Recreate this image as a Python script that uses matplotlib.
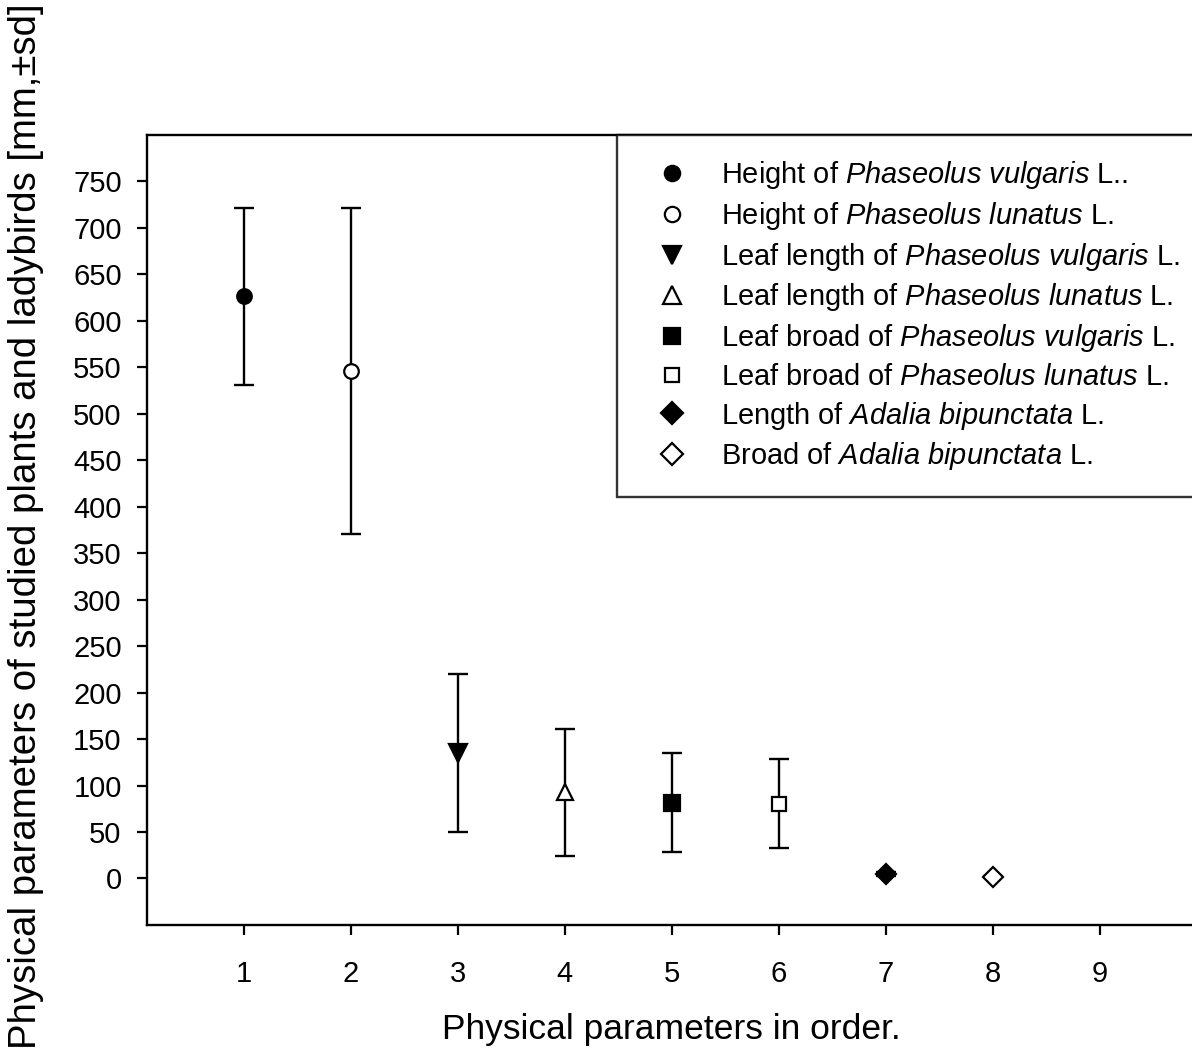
import matplotlib
matplotlib.use("Agg")
import matplotlib.pyplot as plt

plt.rcParams['font.family'] = ['Liberation Sans', 'DejaVu Sans']
plt.rcParams['mathtext.fontset'] = 'custom'
plt.rcParams['mathtext.rm'] = 'Liberation Sans'
plt.rcParams['mathtext.it'] = 'Liberation Sans:italic'

# Data
order = [1, 2, 3, 4, 5, 6, 7, 8]
means = [626, 546, 135, 92.5, 81.5, 80.5, 5, 2]
sds = [95, 175, 85, 68, 53, 48, 2, 0.5]
labels = [
    r"Height of $\it{Phaseolus\ vulgaris}$ L..",
    r"Height of $\it{Phaseolus\ lunatus}$ L.",
    r"Leaf length of $\it{Phaseolus\ vulgaris}$ L.",
    r"Leaf length of $\it{Phaseolus\ lunatus}$ L.",
    r"Leaf broad of $\it{Phaseolus\ vulgaris}$ L.",
    r"Leaf broad of $\it{Phaseolus\ lunatus}$ L.",
    r"Length of $\it{Adalia\ bipunctata}$ L.",
    r"Broad of $\it{Adalia\ bipunctata}$ L.",
]
markers = ['o', 'o', 'v', '^', 's', 's', 'D', 'D']
fills = ['black', 'white', 'black', 'white', 'black', 'white', 'black', 'white']
msizes = [10.5, 10.5, 13, 12, 11, 10, 10.5, 10.5]
xticks = [1, 2, 3, 4, 5, 6, 7, 8, 9]
yticks = list(range(0, 751, 50))

fig = plt.figure(figsize=(11.92, 10.57), dpi=100)
ax = fig.add_axes([0.1236, 0.1249, 1.0034 - 0.1236, 0.8726 - 0.1249])

handles = []
for x, m, s, mk, fc, ms, lab in zip(order, means, sds, markers, fills, msizes, labels):
    ax.errorbar([x], [m], yerr=[s], fmt='none', ecolor='black', elinewidth=1.7,
                capsize=7.5, capthick=1.7, zorder=2)
    h, = ax.plot([x], [m], linestyle='none', marker=mk, markersize=ms,
                 markerfacecolor=fc, markeredgecolor='black', markeredgewidth=1.6,
                 label=lab, zorder=3)
    handles.append(h)

ax.set_xlim(0.1, 9.9)
ax.set_ylim(-50, 800)
ax.set_xticks(xticks)
ax.set_yticks(yticks)
ax.tick_params(direction='out', length=7, width=1.6, labelsize=21)
ax.tick_params(axis='y', pad=11.5)
ax.tick_params(axis='x', pad=18)
for sp in ax.spines.values():
    sp.set_linewidth(1.7)

ax.set_xlabel("Physical parameters in order.", fontsize=25.5, labelpad=18)
ax.set_ylabel("Physical parameters of studied plants and ladybirds [mm,\u00b1sd]",
              fontsize=27.6)
ax.yaxis.set_label_coords((44 - 147.3) / 1048.7, 0.505)

x0 = (617 - 147.3) / (1196 - 147.3)
leg = ax.legend(handles=handles, loc='upper left', bbox_to_anchor=(x0, 0, 1 - x0, 1),
                mode='expand', borderaxespad=0, fontsize=20.9, markerscale=1.05,
                frameon=True, fancybox=False, edgecolor='black', borderpad=0.85,
                handlelength=2.08, handletextpad=0.64, labelspacing=0.30)
leg.get_frame().set_linewidth(1.7)

fig.savefig("out.png", dpi=100)
